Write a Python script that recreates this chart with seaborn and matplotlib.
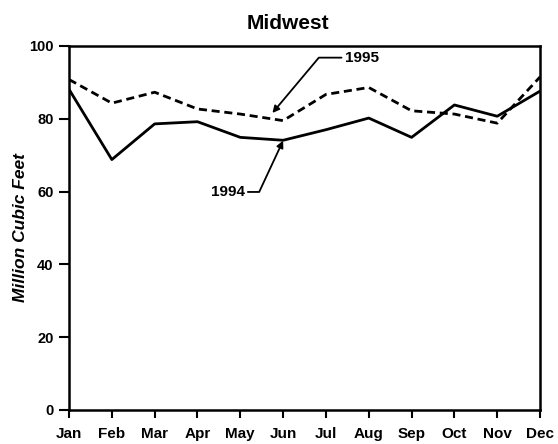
import matplotlib
matplotlib.use("Agg")
import matplotlib.pyplot as plt
import seaborn as sns
import pandas as pd

months = ["Jan", "Feb", "Mar", "Apr", "May", "Jun", "Jul", "Aug", "Sep", "Oct", "Nov", "Dec"]
vals_1994 = [88.1, 68.8, 78.6, 79.2, 74.9, 74.1, 77.0, 80.2, 74.9, 83.8, 80.7, 87.6]
vals_1995 = [90.8, 84.3, 87.3, 82.7, 81.3, 79.5, 86.7, 88.6, 82.2, 81.3, 78.8, 91.5]
yticks = [0, 20, 40, 60, 80, 100]

df = pd.DataFrame({
    "month": months * 2,
    "value": vals_1994 + vals_1995,
    "year": ["1994"] * 12 + ["1995"] * 12,
})
df["idx"] = list(range(12)) * 2

sns.set_style("white")
plt.rcParams["font.family"] = ["Liberation Sans", "DejaVu Sans"]
plt.rcParams["text.color"] = "black"
plt.rcParams["axes.labelcolor"] = "black"
plt.rcParams["xtick.color"] = "black"
plt.rcParams["ytick.color"] = "black"

fig = plt.figure(figsize=(5.58, 4.44), dpi=100)
ax = fig.add_axes([0.1237, 0.0766, 0.8441, 0.8198])

sns.lineplot(data=df, x="idx", y="value", style="year", style_order=["1994", "1995"],
             dashes={"1994": "", "1995": (2.9, 1.7)}, color="black", linewidth=2.0,
             legend=False, ax=ax)

ax.set_xlim(0, 11)
ax.set_ylim(0, 100)
ax.set_xticks(range(12))
ax.set_xticklabels(months, fontsize=11, fontweight="bold")
ax.set_yticks(yticks)
ax.set_yticklabels([str(v) for v in yticks], fontsize=10.5, fontweight="bold")
ax.set_xlabel("")
ax.set_ylabel("Million Cubic Feet", fontsize=12.5, fontweight="bold", style="italic")
ax.yaxis.set_label_coords(-0.088, 0.5)
ax.set_title("Midwest", fontsize=15, fontweight="bold", pad=12, x=0.465)
ax.tick_params(axis="x", direction="out", length=6, width=1.5, pad=6)
ax.tick_params(axis="y", direction="out", length=7, width=1.5, pad=4)
ax.tick_params(left=True, bottom=True)
for s in ax.spines.values():
    s.set_color("black")
    s.set_linewidth(1.8)

# annotations
ax.annotate("1995", xy=(4.75, 81.6), xytext=(6.44, 96.8),
            fontsize=11, fontweight="bold", va="center", ha="left",
            arrowprops=dict(arrowstyle="-|>", color="black", lw=1.3,
                            connectionstyle="angle,angleA=0,angleB=50,rad=0",
                            shrinkA=0, shrinkB=0, mutation_scale=10))
ax.annotate("1994", xy=(5.0, 74.0), xytext=(4.1, 59.9),
            fontsize=11, fontweight="bold", va="center", ha="right",
            arrowprops=dict(arrowstyle="-|>", color="black", lw=1.3,
                            connectionstyle="angle,angleA=0,angleB=65,rad=0",
                            shrinkA=0, shrinkB=0, mutation_scale=10))

fig.savefig("out.png", dpi=100)
